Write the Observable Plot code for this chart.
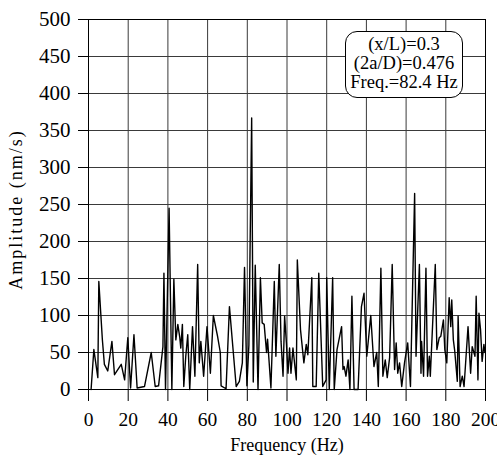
<!DOCTYPE html>
<html>
<head>
<meta charset="utf-8">
<script src="https://cdn.jsdelivr.net/npm/d3@7"></script>
<script src="https://cdn.jsdelivr.net/npm/@observablehq/plot@0.6"></script>
<style>
  html, body { margin: 0; padding: 0; background: white; }
  #wrap { position: relative; width: 497px; height: 463px; font-family: "Liberation Serif", serif; }
  #note {
    position: absolute; left: 345px; top: 31px; width: 118px; height: 67px;
    box-sizing: border-box; border: 1px solid black; border-radius: 12px;
    background: white; font-family: "Liberation Serif", serif; font-size: 18.5px;
    line-height: 19px; text-align: center; padding-top: 3px; color: black;
  }
</style>
</head>
<body>
<div id="wrap"></div>
<script>
const freq = [1.3, 2.7, 4.7, 5.2, 7, 8, 9.7, 11.8, 13.1, 16.5, 18.2, 19.8, 21.2, 22.9, 24.5, 28.2, 31.6, 33.6, 35.3, 37.5, 38, 38.8, 40.6, 42, 43, 44, 45, 46, 46.5, 47.3, 48, 49, 50, 51, 52.4, 53.6, 55, 55.8, 56.6, 58, 59.7, 61.4, 62.9, 65, 66.4, 66.8, 69.3, 71, 74.4, 76, 77.5, 78.6, 79.8, 80.8, 82.2, 83, 84, 85.4, 86.6, 87.5, 88.5, 89.7, 90.2, 91.9, 93.6, 94.4, 96.1, 97, 98, 98.8, 99.7, 100.5, 101.3, 102, 103, 104.7, 105.2, 106.8, 108.5, 109.7, 110.5, 112.5, 113, 114.7, 116, 118, 119.7, 120, 121.3, 123, 123.8, 125.2, 127.5, 128.2, 128.8, 129.7, 130.8, 131.7, 132.7, 133.8, 135.8, 137.5, 138.8, 140.2, 142.2, 143.8, 145.2, 146, 147.3, 148.3, 149.5, 150.5, 151.7, 153, 154.2, 155, 155.8, 156.7, 157.8, 159.2, 160.8, 162.2, 164.3, 165, 166.7, 167.5, 167.8, 168.8, 170, 170.8, 171.7, 172.2, 174.7, 175.5, 176.7, 177.5, 178.8, 179.5, 180.5, 181.7, 182.5, 183, 183.8, 184.5, 185.8, 186.2, 187.2, 188.3, 189.2, 191.2, 192.5, 193.3, 194.7, 195.3, 196.2, 196.7, 197.5, 198.3, 199.2, 199.7];
const amp = [0, 54, 16, 146, 67, 34, 25, 65, 20, 34, 13, 70, 2, 74, 2, 4, 50, 4, 5, 58, 157, 0, 245, 0, 149, 67, 88, 70, 56, 88, 4, 45, 74, 0, 85, 18, 169, 36, 65, 18, 85, 22, 100, 72, 50, 5, 1, 112, 4, 11, 36, 165, 5, 60, 367, 10, 168, 0, 151, 90, 88, 50, 68, 2, 146, 45, 169, 65, 18, 99, 63, 22, 56, 22, 56, 13, 175, 81, 36, 61, 47, 151, 4, 4, 157, 4, 13, 151, 0, 151, 0, 54, 85, 27, 31, 18, 40, 0, 126, 0, 0, 112, 130, 45, 100, 31, 50, 4, 164, 18, 40, 16, 43, 169, 27, 63, 22, 36, 4, 36, 63, 4, 265, 45, 169, 22, 65, 18, 164, 18, 45, 18, 169, 54, 70, 72, 94, 54, 36, 124, 85, 121, 67, 52, 11, 99, 4, 18, 4, 85, 22, 58, 45, 126, 13, 103, 81, 38, 61, 50];
const xTicks = [0, 20, 40, 60, 80, 100, 120, 140, 160, 180, 200];
const yTicks = [0, 50, 100, 150, 200, 250, 300, 350, 400, 450, 500];
const noteLines = ["(x/L)=0.3", "(2a/D)=0.476", "Freq.=82.4 Hz"];
const xTitle = "Frequency (Hz)";
const yTitle = "Amplitude (nm/s)";

const data = freq.map((f, i) => ({f, a: amp[i]}));

const chart = Plot.plot({
  width: 497,
  height: 463,
  marginLeft: 88,
  marginRight: 12,
  marginTop: 19,
  marginBottom: 74,
  style: {fontSize: "18px", background: "white", color: "black"},
  x: {domain: [0, 200], label: null},
  y: {domain: [0, 500], label: null},
  marks: [
    Plot.gridX(xTicks, {stroke: "#3a3a3a", strokeOpacity: 1, strokeWidth: 1}),
    Plot.gridY(yTicks, {stroke: "#3a3a3a", strokeOpacity: 1, strokeWidth: 1}),
    Plot.frame({stroke: "black", strokeWidth: 1}),
    Plot.axisX(xTicks, {tickSize: 12, tickPadding: 11, stroke: "black", fontSize: 19.5}),
    Plot.axisY(yTicks, {tickSize: 10, tickPadding: 8, stroke: "black", fontSize: 21}),
    Plot.line(data, {x: "f", y: "a", stroke: "black", strokeWidth: 1.4}),
    Plot.text([xTitle], {frameAnchor: "bottom", dy: 56, textAnchor: "middle", lineAnchor: "middle", fontSize: 18}),
    Plot.text([yTitle], {frameAnchor: "left", dx: -72, dy: 5, rotate: -90, textAnchor: "middle", lineAnchor: "middle", fontSize: 18})
  ]
});

const wrap = document.getElementById("wrap");
wrap.appendChild(chart);
const svg = d3.select(chart);
svg.style("font-family", "'Liberation Serif', serif");
svg.selectAll("g, text").style("font-family", "'Liberation Serif', serif");
svg.selectAll("text").filter(function() { return this.textContent === yTitle; }).style("letter-spacing", "2px");
const note = document.createElement("div");
note.id = "note";
note.innerHTML = noteLines.map(s => `<div>${s}</div>`).join("");
wrap.appendChild(note);
</script>
</body>
</html>
